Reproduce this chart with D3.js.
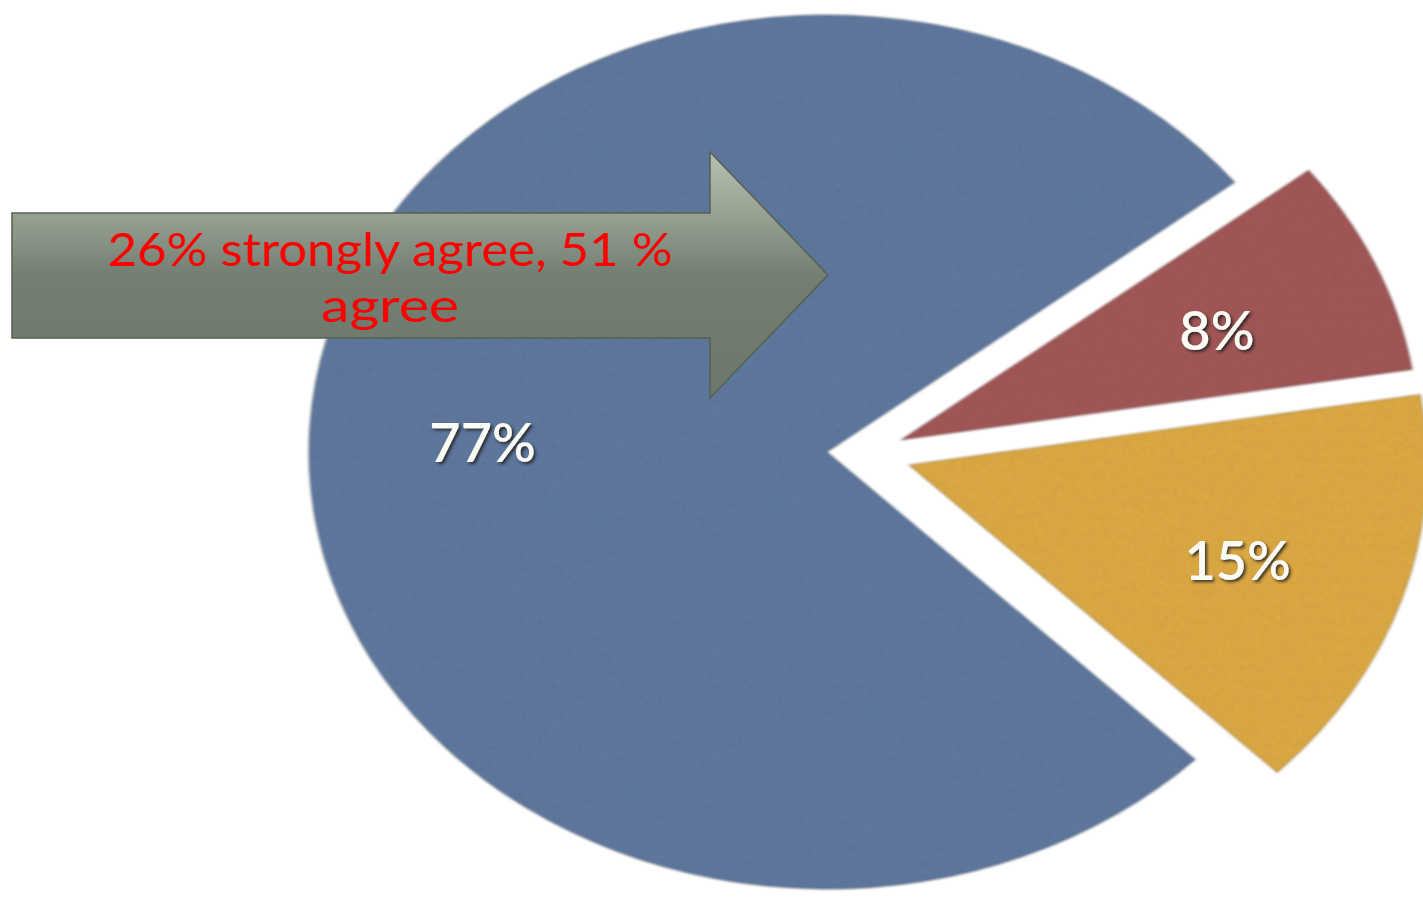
<!DOCTYPE html>
<html>
<head>
<meta charset="utf-8">
<script src="https://cdn.jsdelivr.net/npm/d3@7"></script>
<style>
html,body{margin:0;padding:0;background:#fff;}
svg{display:block;}
</style>
</head>
<body>
<script>
// ---- data ----
const sliceValues = [8, 15, 77];
const sliceLabels = ["8%", "15%", "77%"];
const annotationLines = ["26% strongly agree, 51 %", "agree"];

// ---- style / layout ----
const W = 1423, H = 898;
const sliceColors = ["#a45858", "#dfab45", "#6079a0"];
const explode = [[74, -12], [82, 13], [0, 0]];
const cx = 827, cy = 452, rx = 518, ry = 437;
const k = ry / rx;
const startDeg = 51.9;

const svg = d3.select("body").append("svg").attr("width", W).attr("height", H);
svg.append("rect").attr("width", W).attr("height", H).attr("fill", "#fff");

const defs = svg.append("defs");
// felt texture filter
const felt = defs.append("filter").attr("id", "felt").attr("x", "-5%").attr("y", "-5%").attr("width", "110%").attr("height", "110%");
felt.append("feTurbulence").attr("type", "fractalNoise").attr("baseFrequency", "0.9").attr("numOctaves", 3).attr("seed", 4).attr("result", "noise");
felt.append("feColorMatrix").attr("in", "noise").attr("type", "matrix")
  .attr("values", "0 0 0 0 0  0 0 0 0 0  0 0 0 0 0  0 0 0 -0.8 0.45").attr("result", "dark");
felt.append("feComposite").attr("in", "dark").attr("in2", "SourceGraphic").attr("operator", "in").attr("result", "darkIn");
felt.append("feMerge").call(m => { m.append("feMergeNode").attr("in", "SourceGraphic"); m.append("feMergeNode").attr("in", "darkIn"); })
  .attr("result", "tex");
felt.append("feGaussianBlur").attr("in", "tex").attr("stdDeviation", 1.4);

// label shadow
const sh = defs.append("filter").attr("id", "lblshadow").attr("x", "-20%").attr("y", "-30%").attr("width", "150%").attr("height", "170%");
sh.append("feDropShadow").attr("dx", 2).attr("dy", 2).attr("stdDeviation", 1.6).attr("flood-color", "#1a1a1a").attr("flood-opacity", 0.85);

// arrow gradient
const grad = defs.append("linearGradient").attr("id", "arrowGrad").attr("gradientUnits", "userSpaceOnUse")
  .attr("x1", 0).attr("y1", 152).attr("x2", 0).attr("y2", 398);
[[0, "#b6c1b2"], [0.25, "#97a293"], [0.5, "#737f72"], [1, "#6b776a"]].forEach(([o, c]) =>
  grad.append("stop").attr("offset", o).attr("stop-color", c));

// ---- pie ----
const pie = d3.pie().sort(null).value(d => d)
  .startAngle(startDeg * Math.PI / 180).endAngle(startDeg * Math.PI / 180 + 2 * Math.PI);
const arcs = pie(sliceValues);
const arc = d3.arc().innerRadius(0).outerRadius(rx);
const labelArc = d3.arc().innerRadius(345).outerRadius(345);

const g = svg.append("g");
arcs.forEach((a, i) => {
  const sg = g.append("g").attr("transform", `translate(${cx + explode[i][0]},${cy + explode[i][1]}) scale(1,${k})`);
  sg.append("path").attr("d", arc(a)).attr("fill", sliceColors[i])
    .attr("stroke", "rgba(40,40,40,0.3)").attr("stroke-width", 1.5)
    .attr("filter", "url(#felt)");
});

// labels
arcs.forEach((a, i) => {
  const c = labelArc.centroid(a);
  svg.append("text")
    .attr("x", cx + explode[i][0] + c[0])
    .attr("y", cy + explode[i][1] + c[1] * k + 6)
    .attr("text-anchor", "middle").attr("dominant-baseline", "central")
    .attr("font-family", "Lato, 'Open Sans', sans-serif").attr("font-size", 54).attr("font-weight", 600)
    .attr("fill", "#fbfbf6").attr("filter", "url(#lblshadow)")
    .text(sliceLabels[i]);
});

// ---- annotation arrow ----
const arrowPts = [[12, 213], [710, 213], [710, 152], [828, 275], [710, 398], [710, 338], [12, 338]];
svg.append("path").attr("d", d3.line()(arrowPts) + "Z")
  .attr("fill", "url(#arrowGrad)").attr("stroke", "#56604f").attr("stroke-width", 1.5);

const lineW = [565, 138];
const lineY = [266, 322];
annotationLines.forEach((t, i) => {
  svg.append("text").attr("x", 390).attr("y", lineY[i])
    .attr("text-anchor", "middle")
    .attr("font-family", "Lato, 'Open Sans', sans-serif").attr("font-size", 46)
    .attr("fill", "#ff0000")
    .attr("textLength", lineW[i]).attr("lengthAdjust", "spacingAndGlyphs")
    .text(t);
});
</script>
</body>
</html>
